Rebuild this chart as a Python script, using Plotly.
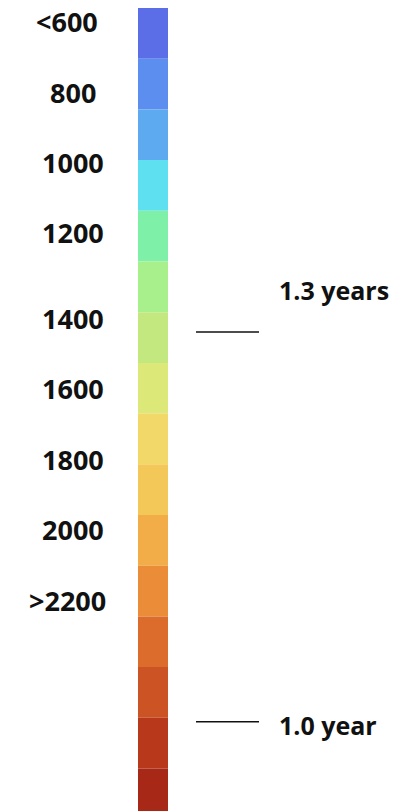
import plotly.graph_objects as go

# Colour bar segments (top to bottom)
segment_colors = [
    "#5b6ee8", "#5b8eee", "#5eaaf0", "#5ee0f0", "#7ef0a8", "#a8f08c",
    "#c4e880", "#dce878", "#f2d868", "#f4c858", "#f2ac48", "#ea8c38",
    "#dc6c2c", "#cc5424", "#b8381c", "#a82818",
]
segment_index = list(range(len(segment_colors)))

# Scale labels and their position along the bar (in segment units)
tick_labels = ["<600", "800", "1000", "1200", "1400", "1600", "1800", "2000", ">2200"]
tick_pos = [0.276, 1.657, 3.04, 4.42, 6.13, 7.51, 8.90, 10.28, 11.68]

# Marker lines with annotations (in segment units)
marker_labels = ["1.3 years", "1.0 year"]
marker_line_pos = [6.39, 14.08]
marker_text_pos = [5.56, 14.14]

W, H = 416, 811
SEG_PX = 50.7
TOP_PX = 8


def px(xp):
    return xp / W


fig = go.Figure()
fig.add_trace(go.Bar(
    x=[0] * len(segment_colors),
    y=[1] * len(segment_colors),
    base=segment_index,
    width=1,
    marker=dict(color=segment_colors, line=dict(width=0)),
    hoverinfo="skip",
    showlegend=False,
))

FONT = dict(family="Open Sans, DejaVu Sans, sans-serif", size=27, color="#111111")

for lbl, p in zip(tick_labels, tick_pos):
    shift = -6 if lbl[0] in "<>" else 0
    fig.add_annotation(x=px(73), xref="paper", y=p, yref="y", text="<b>%s</b>" % lbl,
                       showarrow=False, xanchor="center", yanchor="middle",
                       xshift=shift, font=FONT, borderpad=0)

for lbl, lp, tp in zip(marker_labels, marker_line_pos, marker_text_pos):
    fig.add_shape(type="line", xref="paper", yref="y", x0=px(196), x1=px(259),
                  y0=lp, y1=lp, line=dict(color="#111111", width=1.5))
    fig.add_annotation(x=px(278), xref="paper", y=tp, yref="y", text="<b>%s</b>" % lbl,
                       showarrow=False, xanchor="left", yanchor="middle",
                       font=dict(FONT, size=25), borderpad=0)

fig.update_layout(
    width=W, height=H,
    margin=dict(l=0, r=0, t=0, b=0),
    paper_bgcolor="white", plot_bgcolor="white",
    barmode="overlay",
    hovermode=False,
    xaxis=dict(domain=[px(138), px(168)], range=[-0.5, 0.5], visible=False, fixedrange=True),
    yaxis=dict(range=[(H - TOP_PX) / SEG_PX, -TOP_PX / SEG_PX], visible=False, fixedrange=True),
)

fig.write_html(
    "out.html",
    config={"displayModeBar": False, "staticPlot": True},
    post_script="document.body.style.margin='0';document.body.style.overflow='hidden';",
)
